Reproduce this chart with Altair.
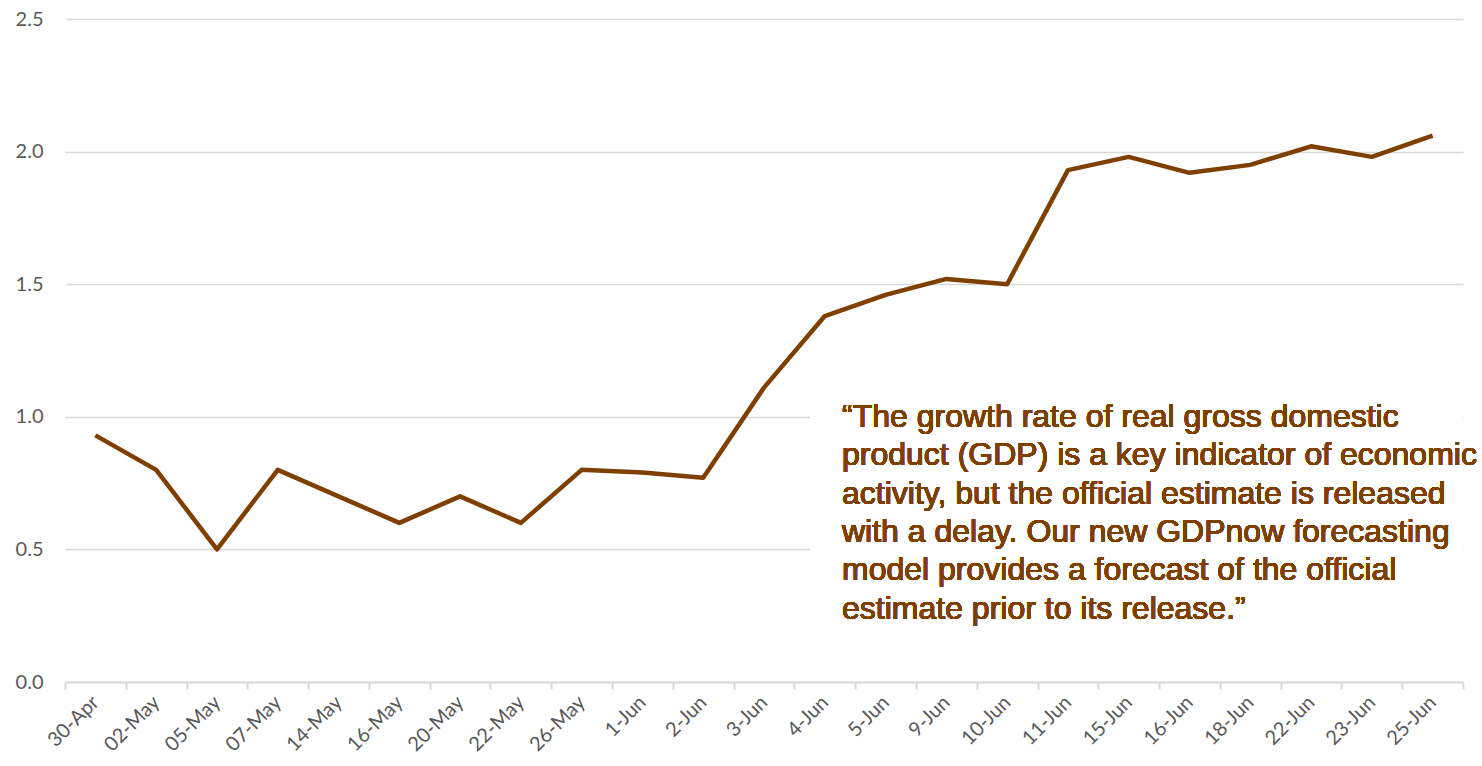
import altair as alt
import pandas as pd

dates = ["30-Apr", "02-May", "05-May", "07-May", "14-May", "16-May", "20-May", "22-May",
         "26-May", "1-Jun", "2-Jun", "3-Jun", "4-Jun", "5-Jun", "9-Jun", "10-Jun",
         "11-Jun", "15-Jun", "16-Jun", "18-Jun", "22-Jun", "23-Jun", "25-Jun"]
values = [0.93, 0.80, 0.50, 0.80, 0.70, 0.60, 0.70, 0.60,
          0.80, 0.79, 0.77, 1.11, 1.38, 1.46, 1.52, 1.50,
          1.93, 1.98, 1.92, 1.95, 2.02, 1.98, 2.06]
y_ticks = [0.0, 0.5, 1.0, 1.5, 2.0, 2.5]
quote_lines = [
    "\u201cThe growth rate of real gross domestic",
    "product (GDP) is a key indicator of economic",
    "activity, but the official estimate is released",
    "with a delay. Our new GDPnow forecasting",
    "model provides a forecast of the official",
    "estimate prior to its release.\u201d",
]

df = pd.DataFrame({"date": dates, "value": values})
BROWN = "#7F3F00"
GREY = "#D9D9D9"

x_enc = alt.X("date:N", sort=dates, title=None,
              scale=alt.Scale(paddingInner=0, paddingOuter=0),
              axis=alt.Axis(labelAngle=-45, labelAlign="right", labelBaseline="middle",
                            labelPadding=10, labelFont="Lato", labelFontSize=20,
                            labelColor="#595959", domainColor=GREY, domainWidth=2,
                            tickColor=GREY, tickWidth=2, tickSize=7, tickBand="extent",
                            grid=False))
y_enc = alt.Y("value:Q", title=None,
              scale=alt.Scale(domain=[0, 2.5], nice=False),
              axis=alt.Axis(values=y_ticks, format=".1f", domain=False, ticks=False,
                            labelPadding=22, labelFont="Lato", labelFontSize=20,
                            labelColor="#595959", gridColor=GREY, gridWidth=1.5))

line = alt.Chart(df).mark_line(color=BROWN, strokeWidth=4.5, strokeJoin="round").encode(
    x=x_enc, y=y_enc)

box = alt.Chart(df).mark_rect(color="white").encode(
    x=alt.value(745), x2=alt.value(1398), y=alt.value(360), y2=alt.value(611))

quote = alt.Chart(df).mark_text(
    align="left", baseline="alphabetic", font="Liberation Sans", fontSize=32,
    fontWeight="normal", color=BROWN, lineHeight=38.3, lineBreak="\n").encode(
    x=alt.value(777), y=alt.value(408), text=alt.value("\n".join(quote_lines)))

chart = alt.layer(line, box, quote).properties(
    width=1398, height=663,
    background="white",
    autosize=alt.AutoSizeParams(type="none"),
    padding={"left": 65, "top": 19, "right": 19, "bottom": 84},
).configure_view(stroke=None)

chart.save("out.html", embed_options={"renderer": "svg", "actions": False})
